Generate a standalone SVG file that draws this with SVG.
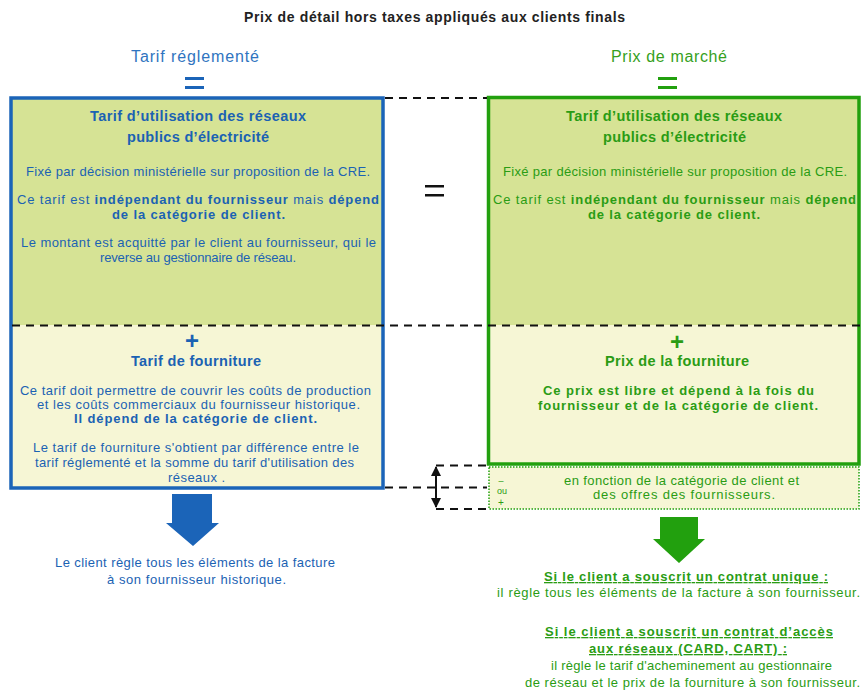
<svg xmlns="http://www.w3.org/2000/svg" width="862" height="690" viewBox="0 0 862 690">
<style>
text{font-family:"Liberation Sans",Arial,sans-serif;text-anchor:middle}
.t{font-size:14px;font-weight:bold;fill:#222}
.bh{font-size:16px;fill:#2f74c0}
.gh{font-size:16px;fill:#35a01c}
.b{fill:#1b62b3;font-size:13px}
.g{fill:#2a9c14;font-size:13px}
.hd{font-size:14.5px;font-weight:bold}
.bo{font-weight:bold}
.plus{font-size:24px;font-weight:bold}
.dash{stroke:#111;stroke-width:2;stroke-dasharray:8 6;fill:none}
.u{text-decoration:underline}
</style>
<defs>
<marker id="ah" viewBox="0 0 10 10" refX="9" refY="5" markerWidth="5" markerHeight="5" orient="auto-start-reverse"><path d="M0,0 L10,5 L0,10 z" fill="#111"/></marker>
</defs>
<text class="t" x="434.5" y="22" textLength="381">Prix de détail hors taxes appliqués aux clients finals</text>

<g id="col-left-head">
<text class="bh" x="195" y="62" textLength="128">Tarif réglementé</text>
<rect x="185" y="77" width="19" height="3" fill="#1b64b8"/>
<rect x="185" y="86" width="19" height="3" fill="#1b64b8"/>
</g>
<g id="col-right-head">
<text class="gh" x="669" y="62" textLength="116">Prix de marché</text>
<rect x="658" y="77" width="19" height="3" fill="#22a00e"/>
<rect x="658" y="86" width="19" height="3" fill="#22a00e"/>
</g>

<g id="left-box">
<rect x="11" y="98" width="372" height="227" fill="#d6e395"/>
<rect x="11" y="325" width="372" height="163" fill="#f6f6d5"/>
<rect x="11" y="98" width="372" height="390" fill="none" stroke="#1b64b8" stroke-width="3.5"/>
<g class="b">
<text class="hd" x="198" y="121" textLength="216">Tarif d’utilisation des réseaux</text>
<text class="hd" x="198" y="142" textLength="142">publics d’électricité</text>
<text x="198" y="176" textLength="344">Fixé par décision ministérielle sur proposition de la CRE.</text>
<text x="198" y="204" textLength="362">Ce tarif est <tspan class="bo">indépendant du fournisseur</tspan> mais <tspan class="bo">dépend</tspan></text>
<text class="bo" x="198.5" y="219" textLength="173">de la catégorie de client.</text>
<text x="198.5" y="247" textLength="355">Le montant est acquitté par le client au fournisseur, qui le</text>
<text x="198" y="262" textLength="196">reverse au gestionnaire de réseau.</text>
<text class="plus" x="192" y="349">+</text>
<text class="hd" x="196" y="366" textLength="130">Tarif de fourniture</text>
<text x="195.5" y="395" textLength="351">Ce tarif doit permettre de couvrir les coûts de production</text>
<text x="198.5" y="409" textLength="323">et les coûts commerciaux du fournisseur historique.</text>
<text class="bo" x="195.5" y="423" textLength="243">Il dépend de la catégorie de client.</text>
<text x="196" y="452" textLength="326">Le tarif de fourniture s'obtient par différence entre le</text>
<text x="194.5" y="467" textLength="319">tarif réglementé et la somme du tarif d'utilisation des</text>
<text x="196.5" y="482" textLength="57">réseaux .</text>
</g>
</g>

<g id="right-box">
<rect x="488.5" y="97.5" width="370.5" height="227.5" fill="#d6e395"/>
<rect x="488.5" y="325" width="370.5" height="139" fill="#f6f6d5"/>
<rect x="488.5" y="97.5" width="370.5" height="366.5" fill="none" stroke="#22a00e" stroke-width="3.5"/>
<g class="g">
<text class="hd" x="674" y="121" textLength="216">Tarif d’utilisation des réseaux</text>
<text class="hd" x="674.5" y="142" textLength="143">publics d’électricité</text>
<text x="675" y="176" textLength="344">Fixé par décision ministérielle sur proposition de la CRE.</text>
<text x="674.5" y="204" textLength="363">Ce tarif est <tspan class="bo">indépendant du fournisseur</tspan> mais <tspan class="bo">dépend</tspan></text>
<text class="bo" x="674" y="219" textLength="172">de la catégorie de client.</text>
<text class="plus" x="677" y="350">+</text>
<text class="hd" x="677" y="366" textLength="144">Prix de la fourniture</text>
<text class="bo" x="678.5" y="395" textLength="271">Ce prix est libre et dépend à la fois du</text>
<text class="bo" x="678" y="410" textLength="280">fournisseur et de la catégorie de client.</text>
</g>
</g>

<g id="variation-box">
<rect x="489" y="467" width="370" height="42" fill="#f6f6d5" stroke="#22a00e" stroke-width="1.5" stroke-dasharray="1.5 1.5"/>
<g class="g">
<text x="681.5" y="485" textLength="235">en fonction de la catégorie de client et</text>
<text x="684" y="499" textLength="182">des offres des fournisseurs.</text>
<text x="501" y="484" style="font-size:9px">–</text>
<text x="502" y="494" style="font-size:9px">ou</text>
<text x="501" y="506" style="font-size:10px">+</text>
</g>
</g>

<g id="equals-mid">
<rect x="425" y="185" width="19" height="2.5" fill="#111"/>
<rect x="425" y="194" width="19" height="2.5" fill="#111"/>
</g>

<g id="connectors">
<line class="dash" x1="385" y1="98" x2="487" y2="98"/>
<line class="dash" x1="12" y1="325.5" x2="862" y2="325.5"/>
<line class="dash" x1="436" y1="465.5" x2="487" y2="465.5"/>
<line class="dash" x1="385" y1="487.5" x2="487" y2="487.5"/>
<line class="dash" x1="436" y1="509" x2="487" y2="509"/>
<line x1="436" y1="467" x2="436" y2="507" stroke="#111" stroke-width="2" marker-start="url(#ah)" marker-end="url(#ah)"/>
<path d="M172,494 H212 V523 H219 L193,546 L166,523 H172 Z" fill="#1b64b8"/>
<path d="M660,517 H698 V539 H705 L679,563 L653,539 H660 Z" fill="#22a00e"/>
</g>

<g id="left-note" class="b">
<text x="195" y="567" textLength="280">Le client règle tous les éléments de la facture</text>
<text x="196.5" y="584" textLength="179">à son fournisseur historique.</text>
</g>
<g id="right-note" class="g">
<text class="bo u" x="686" y="581" textLength="284">Si le client a souscrit un contrat unique :</text>
<text x="678.5" y="597" textLength="363">il règle tous les éléments de la facture à son fournisseur.</text>
<text class="bo u" x="689" y="636" textLength="288">Si le client a souscrit un contrat d’accès </text>
<text class="bo u" x="688" y="653" textLength="198">aux réseaux (CARD, CART) :</text>
<text x="691.5" y="670" textLength="281">il règle le tarif d'acheminement au gestionnaire</text>
<text x="692.5" y="687" textLength="335">de réseau et le prix de la fourniture à son fournisseur.</text>
</g>
</svg>
